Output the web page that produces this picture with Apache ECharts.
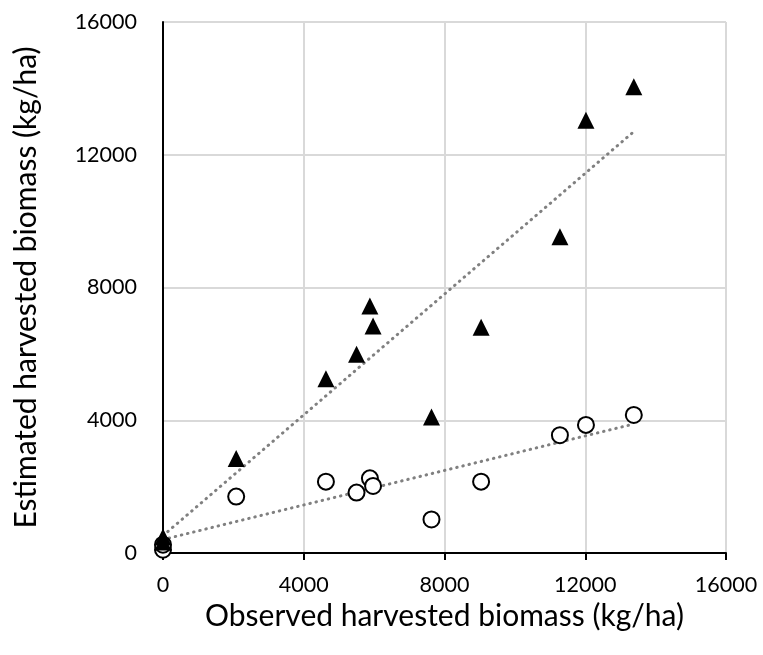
<!DOCTYPE html>
<html>
<head>
<meta charset="utf-8">
<script src="https://cdn.jsdelivr.net/npm/echarts@6/dist/echarts.min.js"></script>
<style>
  html, body { margin: 0; padding: 0; background: #fff; }
  #chart { width: 763px; height: 655px; }
</style>
</head>
<body>
<div id="chart"></div>
<script>
// observed biomass (kg/ha), shared by both series
let observed = [0, 0, 2080, 4630, 5500, 5880, 5970, 7630, 9040, 11280, 12020, 13380]
// estimated, triangles
let estTriangle = [480, 330, 2850, 5250, 5990, 7440, 6840, 4100, 6800, 9530, 13040, 14050]
// estimated, circles
let estCircle = [100, 250, 1700, 2150, 1820, 2250, 2020, 1010, 2150, 3550, 3860, 4160]
let xTicks = [0, 4000, 8000, 12000, 16000]
let yTicks = [0, 4000, 8000, 12000, 16000]

function pairs(xs, ys) {
    return xs.map((x, i) => [x, ys[i]])
}

// least squares line, like the excel trendline
function trend(xs, ys) {
    let n = xs.length
    let mx = xs.reduce((a, b) => a + b, 0) / n
    let my = ys.reduce((a, b) => a + b, 0) / n
    let sxy = 0, sxx = 0
    for (let i = 0; i < n; i++) {
        sxy += (xs[i] - mx) * (ys[i] - my)
        sxx += (xs[i] - mx) * (xs[i] - mx)
    }
    let b = sxy / sxx
    let a = my - b * mx
    let x0 = Math.min(...xs), x1 = Math.max(...xs)
    return [[x0, a + b * x0], [x1, a + b * x1]]
}

let font = 'Lato'
let dots = { color: '#808080', width: 3, type: [0.5, 5.8], cap: 'round' }

let chart = echarts.init(document.getElementById('chart'))
let option = {
    animation: false,
    backgroundColor: '#fff',
    grid: { left: 163, right: 37, top: 22, bottom: 102 },
    xAxis: {
        type: 'value',
        min: xTicks[0],
        max: xTicks[xTicks.length - 1],
        interval: 4000,
        name: 'Observed harvested biomass (kg/ha)',
        nameLocation: 'middle',
        nameGap: 42,
        nameTextStyle: { fontFamily: font, fontSize: 30, color: '#000' },
        axisLine: { show: true, onZero: false, lineStyle: { color: '#000', width: 2 } },
        axisTick: { show: true, length: 7, lineStyle: { color: '#000', width: 2 } },
        axisLabel: { fontFamily: font, fontSize: 21.5, color: '#000', margin: 21, formatter: v => String(v) },
        splitLine: { lineStyle: { color: '#d9d9d9', width: 2 } }
    },
    yAxis: {
        type: 'value',
        min: yTicks[0],
        max: yTicks[yTicks.length - 1],
        interval: 4000,
        name: 'Estimated harvested biomass (kg/ha)',
        nameLocation: 'middle',
        nameGap: 122,
        nameTextStyle: { fontFamily: font, fontSize: 30, color: '#000' },
        axisLine: { show: true, onZero: false, lineStyle: { color: '#000', width: 2 } },
        axisTick: { show: false },
        axisLabel: { fontFamily: font, fontSize: 21.5, color: '#000', margin: 26, formatter: v => String(v) },
        splitLine: { lineStyle: { color: '#d9d9d9', width: 2 } }
    },
    series: [{
        name: 'trend triangle',
        type: 'line',
        data: trend(observed, estTriangle),
        symbol: 'none',
        lineStyle: dots,
        z: 1
    }, {
        name: 'trend circle',
        type: 'line',
        data: trend(observed, estCircle),
        symbol: 'none',
        lineStyle: dots,
        z: 1
    }, {
        name: 'circle',
        type: 'scatter',
        data: pairs(observed, estCircle),
        symbol: 'circle',
        symbolSize: 16,
        itemStyle: { color: '#fff', borderColor: '#000', borderWidth: 2, opacity: 1 },
        z: 3
    }, {
        name: 'triangle',
        type: 'scatter',
        data: pairs(observed, estTriangle),
        symbol: 'triangle',
        symbolSize: 17,
        itemStyle: { color: '#000', opacity: 1 },
        z: 4
    }]
}
chart.setOption(option)
</script>
</body>
</html>
